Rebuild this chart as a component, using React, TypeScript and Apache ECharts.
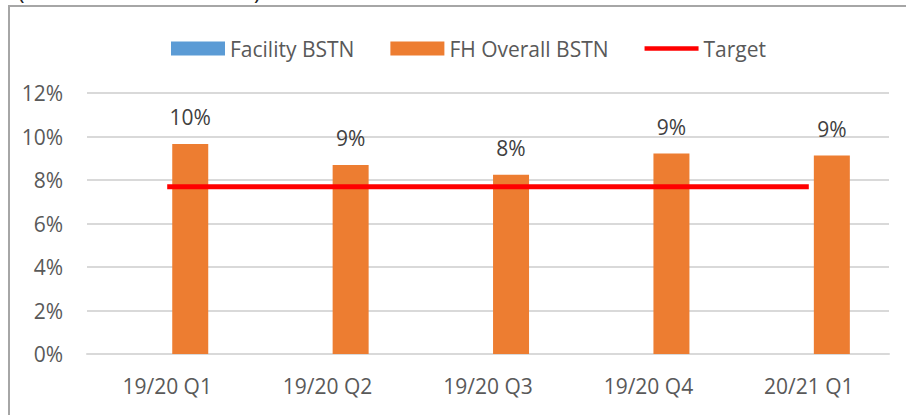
import React, { useEffect, useRef } from "react";
import * as echarts from "echarts";

const categories = ["19/20 Q1", "19/20 Q2", "19/20 Q3", "19/20 Q4", "20/21 Q1"];
const facilityValues: (number | null)[] = [null, null, null, null, null];
const fhOverallValues = [9.66, 8.69, 8.24, 9.22, 9.13];
const targetValues = [7.69, 7.69, 7.69, 7.69, 7.69];
const yTicks = { min: 0, max: 12, interval: 2 };

const FONT = "'Open Sans', 'Noto Sans', sans-serif";

export default function App() {
  const ref = useRef<HTMLDivElement>(null);
  useEffect(() => {
    if (!ref.current) return;
    const chart = echarts.init(ref.current, null, { renderer: "svg" });
    chart.setOption({
      animation: false,
      textStyle: { fontFamily: FONT },
      graphic: [
        {
          type: "rect",
          shape: { x: 9, y: 6, width: 1000, height: 500 },
          style: { fill: "none", stroke: "#a6a6a6", lineWidth: 2 },
          silent: true,
        },
        {
          type: "text",
          x: 18,
          y: 2,
          style: { text: "(", fontSize: 22, fontFamily: FONT, fill: "#222", textVerticalAlign: "bottom" },
        },
        {
          type: "text",
          x: 254,
          y: 2,
          style: { text: ")", fontSize: 22, fontFamily: FONT, fill: "#222", textVerticalAlign: "bottom" },
        },
      ],
      legend: {
        left: 166,
        top: 33,
        itemWidth: 54,
        itemHeight: 14,
        itemGap: 36,
        textStyle: { fontSize: 21, color: "#595959", fontFamily: FONT },
        data: [
          { name: "Facility BSTN", icon: "rect" },
          { name: "FH Overall BSTN", icon: "rect" },
          { name: "Target", icon: "path://M0,0H58V5H0Z" },
        ],
      },
      grid: { left: 87, right: 17, top: 93, bottom: 61, containLabel: false },
      xAxis: {
        type: "category",
        data: categories,
        axisLine: { show: true, lineStyle: { color: "#d9d9d9", width: 2 } },
        axisTick: { show: false },
        axisLabel: { fontSize: 21, color: "#595959", margin: 21, fontFamily: FONT },
      },
      yAxis: {
        type: "value",
        min: yTicks.min,
        max: yTicks.max,
        interval: yTicks.interval,
        axisLine: { show: false },
        axisTick: { show: false },
        splitLine: { lineStyle: { color: "#d9d9d9", width: 2 } },
        axisLabel: { fontSize: 21, color: "#595959", margin: 24, formatter: "{value}%", fontFamily: FONT },
      },
      series: [
        {
          name: "Facility BSTN",
          type: "bar",
          data: facilityValues,
          barWidth: 36,
          barGap: "28%",
          itemStyle: { color: "#5b9bd5" },
        },
        {
          name: "FH Overall BSTN",
          type: "bar",
          data: fhOverallValues,
          barWidth: 36,
          barGap: "28%",
          itemStyle: { color: "#ed7d31" },
          label: {
            show: true,
            position: "top",
            distance: 16,
            fontSize: 21,
            color: "#404040",
            fontFamily: FONT,
            formatter: (p: any) => Math.round(p.value) + "%",
          },
        },
        {
          name: "Target",
          type: "line",
          data: targetValues,
          symbol: "none",
          lineStyle: { color: "#ff0000", width: 5 },
          itemStyle: { color: "#ff0000" },
          z: 5,
        },
      ],
    });
    return () => chart.dispose();
  }, []);
  return (
    <div
      ref={ref}
      style={{ position: "fixed", left: 0, top: 0, width: 906, height: 415, background: "#fff" }}
    />
  );
}
